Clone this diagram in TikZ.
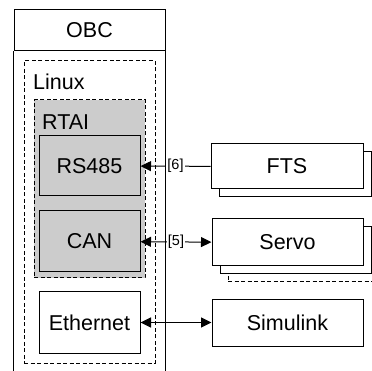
\documentclass[tikz,border=0pt]{standalone}
\usepackage{fontspec}
\setmainfont{Liberation Sans}
\usetikzlibrary{arrows.meta, positioning, calc}
\definecolor{rtaigrey}{HTML}{CCCCCC}
\tikzstyle{block} = [rectangle, draw=black, line width=1pt, inner sep=0pt, font=\fontsize{21.5}{25}\selectfont, text centered]
\tikzstyle{zone} = [rectangle, draw=black, line width=1pt, dash pattern=on 4pt off 2.5pt, inner sep=0pt]
\tikzstyle{zonelabel} = [anchor=west, inner sep=0pt, font=\fontsize{21.5}{25}\selectfont]
\tikzstyle{portlabel} = [fill=white, inner sep=1pt, font=\fontsize{14.5}{17}\selectfont]
\tikzstyle{arrow} = [line width=1pt, -{Triangle[length=10.5pt,width=10pt]}]
\tikzstyle{biarrow} = [line width=1pt, {Triangle[length=10.5pt,width=10pt]}-{Triangle[length=10.5pt,width=10pt]}]

\begin{document}
\begin{tikzpicture}[x=1pt, y=-1pt]
\clip (0,0) rectangle (372,371);
% on-board computer
\node (obc) [block, minimum width=151pt, minimum height=41pt] at (89.5,30.5) {OBC};
\draw [line width=1pt] (obc.south west) -- ++(0,340);
\draw [line width=1pt] (obc.south east) -- ++(0,340);
\node (linux) [zone, minimum width=131pt, minimum height=302pt] at (89.5,212) {};
\node (linuxlbl) [zonelabel] at (33,82) {Linux};
\node (rtai) [zone, fill=rtaigrey, minimum width=111pt, minimum height=178pt] at (89.5,189) {};
\node (rtailbl) [zonelabel] at (42,122) {RTAI};
\node (rs485) [block, fill=rtaigrey, minimum width=101pt, minimum height=60pt] at (89.5,166) {RS485};
\node (can) [block, fill=rtaigrey, minimum width=101pt, minimum height=61pt] at (89.5,241.5) {CAN};
\node (eth) [block, minimum width=101pt, minimum height=61pt] at (89.5,322.5) {Ethernet};
% devices
\node (servoback2) [zone, minimum width=151pt, minimum height=47pt] at (303.5,258.5) {};
\node (servoback) [block, fill=white, minimum width=151pt, minimum height=47pt] at (295.5,250.5) {};
\node (servo) [block, fill=white, minimum width=151pt, minimum height=47pt] at (287.5,242.5) {Servo};
\node (ftsback) [block, fill=white, minimum width=152pt, minimum height=45pt] at (295,174.5) {};
\node (fts) [block, fill=white, minimum width=152pt, minimum height=45pt] at (287,166.5) {FTS};
\node (sim) [block, fill=white, minimum width=151pt, minimum height=47pt] at (287.5,322.5) {Simulink};
% links
\draw [arrow] (fts) -- node[portlabel] {[6]} (rs485);
\draw [biarrow] (servo) -- node[portlabel] {[5]} (can);
\draw [biarrow] (sim) -- (eth);
\end{tikzpicture}
\end{document}
